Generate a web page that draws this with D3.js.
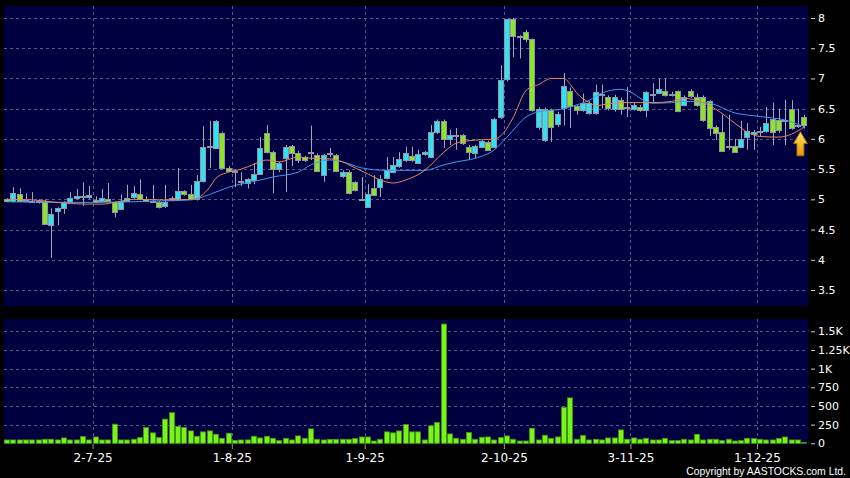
<!DOCTYPE html>
<html><head><meta charset="utf-8">
<script src="https://cdn.jsdelivr.net/npm/d3@7"></script>
<style>html,body{margin:0;padding:0;background:#000;}svg{display:block}</style>
</head><body><svg id="c" width="850" height="478"></svg>
<script>
// ---- data ----
const open = [5.00,4.96,5.09,4.99,4.98,4.97,4.98,4.57,4.80,4.85,4.97,5.03,5.05,5.03,4.99,4.98,5.00,4.95,4.85,4.98,
5.03,5.08,5.00,4.97,4.95,4.88,5.00,5.00,5.13,5.08,5.00,5.30,5.88,5.85,6.10,5.52,5.47,5.30,5.27,5.32,
5.42,6.10,5.78,5.50,5.68,5.88,5.77,5.70,5.78,5.73,5.40,5.77,5.73,5.38,5.45,5.29,5.01,4.87,5.19,5.20,
5.35,5.45,5.55,5.65,5.72,5.60,5.75,5.70,6.11,6.30,6.00,6.07,6.06,5.87,5.77,5.87,5.95,5.87,6.35,6.98,
7.98,7.70,7.77,7.65,6.20,5.98,6.48,6.26,6.50,6.80,6.54,6.48,6.44,6.43,6.74,6.69,6.50,6.65,6.52,6.50,
6.53,6.48,6.74,6.76,6.80,6.74,6.79,6.56,6.79,6.69,6.69,6.62,6.20,6.12,5.88,5.88,5.87,6.03,6.08,6.13,
6.13,6.33,6.31,6.31,6.50,6.23,6.36];
const high = [5.02,5.20,5.18,5.10,5.12,5.00,5.00,4.85,4.87,4.97,5.12,5.17,5.28,5.22,5.05,5.17,5.27,4.97,5.08,5.24,
5.22,5.33,5.05,5.24,4.97,5.24,5.05,5.52,5.15,5.24,5.40,6.21,6.30,6.31,6.12,5.55,5.50,5.45,5.35,5.60,
6.03,6.23,5.80,5.62,5.90,5.90,5.80,5.72,6.22,5.76,5.75,5.85,5.75,5.48,5.48,5.30,5.37,5.25,5.40,5.40,
5.70,5.70,5.78,5.87,5.87,5.82,5.80,6.23,6.32,6.32,6.15,6.18,6.08,5.90,5.90,5.99,5.97,6.35,7.22,7.98,
8.00,7.72,7.80,7.66,6.52,6.52,6.50,6.45,7.09,6.85,6.56,6.75,6.62,6.90,6.90,6.72,6.73,6.68,6.86,6.60,
6.56,6.79,6.92,7.00,7.00,6.78,6.80,6.72,6.82,6.75,6.72,6.64,6.22,6.40,6.40,6.00,6.30,6.26,6.15,6.20,
6.53,6.60,6.50,6.65,6.64,6.50,6.40];
const low = [4.95,4.95,4.96,4.97,4.96,4.93,4.60,4.03,4.57,4.76,4.95,5.00,4.89,5.00,4.95,4.97,4.96,4.70,4.83,4.97,
5.00,4.99,4.96,4.95,4.85,4.86,4.97,4.99,5.06,4.99,4.98,5.28,5.52,5.85,5.50,5.45,5.20,5.22,5.18,5.25,
5.40,5.76,5.10,5.45,5.12,5.55,5.60,5.62,5.65,5.45,5.29,5.70,5.45,5.35,5.08,5.13,4.99,4.86,5.06,5.04,
5.33,5.43,5.52,5.62,5.62,5.58,5.72,5.68,6.08,5.85,5.90,5.82,5.90,5.65,5.68,5.85,5.80,5.85,6.33,6.95,
7.35,7.33,7.60,6.45,6.15,5.95,5.95,6.20,6.22,6.18,6.40,6.45,6.40,6.40,6.50,6.47,6.45,6.40,6.36,6.47,
6.45,6.36,6.59,6.74,6.70,6.70,6.44,6.54,6.68,6.53,6.28,6.05,5.98,5.78,5.82,5.78,5.85,5.82,5.82,6.05,
6.10,5.90,6.10,5.90,6.15,6.18,6.17];
const close = [4.97,5.10,4.97,4.98,4.97,4.95,4.60,4.76,4.85,4.95,5.03,5.06,5.05,5.07,4.96,5.03,4.97,4.79,4.98,5.03,
5.10,5.00,4.97,4.97,4.87,4.95,5.02,5.13,5.08,5.00,5.30,5.87,5.88,6.30,5.52,5.47,5.45,5.30,5.33,5.42,
5.85,5.78,5.50,5.60,5.87,5.77,5.65,5.65,5.78,5.47,5.73,5.77,5.46,5.45,5.10,5.15,5.01,5.08,5.08,5.33,
5.48,5.57,5.67,5.77,5.65,5.75,5.78,6.11,6.30,6.01,6.06,6.07,5.93,5.78,5.88,5.97,5.82,6.33,6.97,7.98,
7.70,7.70,7.65,6.48,6.50,6.50,6.20,6.42,6.87,6.55,6.48,6.60,6.60,6.78,6.74,6.50,6.70,6.50,6.52,6.56,
6.48,6.77,6.74,6.82,6.73,6.74,6.46,6.69,6.70,6.55,6.31,6.18,6.10,5.80,5.88,5.78,6.00,6.13,6.11,6.13,
6.26,6.12,6.15,6.31,6.18,6.23,6.22];
const volume = [45,45,45,45,45,45,54,54,45,72,45,45,90,45,85,45,45,256,45,45,
54,76,211,140,76,324,410,225,211,166,94,153,166,121,67,135,40,45,45,94,
72,94,67,36,67,45,99,67,193,54,45,54,54,54,54,63,85,85,31,54,
153,140,166,252,153,153,45,234,279,1597,126,67,54,144,54,81,85,45,76,99,
54,31,31,202,45,108,67,85,482,608,54,103,45,54,45,72,72,180,54,72,
54,67,45,45,67,36,36,54,45,121,45,54,54,36,54,31,36,67,63,54,
45,45,63,85,45,45,9];
// moving-average lines, read as [bar index, price]
const maFast = [[0,5.00],[4,4.99],[7,4.96],[10,4.93],[15,4.92],[17,4.95],[20,5.00],[25,4.99],[29,5.00],[30,5.02],
[32,5.20],[33,5.35],[35,5.45],[37,5.50],[39,5.58],[41,5.65],[43,5.62],[46,5.70],[48,5.68],[51,5.67],[53,5.62],
[55,5.52],[57,5.42],[59,5.32],[61,5.27],[63,5.32],[66,5.48],[69,5.78],[71,5.93],[73,5.97],[77,6.00],[78,6.05],
[80,6.36],[82,6.80],[84,6.90],[86,7.00],[88,7.00],[89,6.90],[90,6.76],[92,6.60],[93,6.55],[95,6.58],[97,6.60],
[102,6.60],[105,6.62],[107,6.67],[110,6.60],[112,6.49],[115,6.26],[117,6.11],[119,6.04],[122,6.03],[124,6.08],[126,6.20]];
const maSlow = [[0,4.96],[8,4.95],[15,4.95],[23,4.97],[29,4.99],[32,5.08],[35,5.20],[40,5.32],[42,5.37],[46,5.45],
[48,5.57],[51,5.65],[53,5.62],[56,5.52],[60,5.48],[66,5.48],[69,5.57],[71,5.62],[74,5.68],[77,5.82],[79,6.03],
[82,6.36],[84,6.45],[88,6.50],[89,6.53],[92,6.64],[94,6.76],[97,6.82],[98,6.80],[101,6.62],[102,6.59],[105,6.60],
[107,6.62],[111,6.59],[115,6.43],[119,6.37],[123,6.31],[126,6.20]];
const priceTicks = [3.5,4,4.5,5,5.5,6,6.5,7,7.5,8];
const volTicks = [0,250,500,750,1000,1250,1500];
const volTickLabels = ["0","250","500","750","1K","1.25K","1.5K"];
const dateTickIdx = [13,35,56,78,98,118];
const dateTickLabels = ["2-7-25","1-8-25","1-9-25","2-10-25","3-11-25","1-12-25"];

// ---- layout ----
const svg = d3.select('#c');
const L = 4, R = 808, pTop = 6, pBot = 306, vTop = 319, vBot = 444;
const n = open.length;
const x = d3.scaleLinear().domain([-0.5, n - 0.5]).range([L, 807.6]);
const y = d3.scaleLinear().domain([3.5, 8]).range([290, 18]);
const yv = d3.scaleLinear().domain([0, 1500]).range([443.3, 331.3]);
const FONT = "'DejaVu Sans', Verdana, sans-serif";
const GRID = "#575a8e";

svg.append('rect').attr('width', 850).attr('height', 478).attr('fill', '#000');
svg.append('rect').attr('x', L).attr('y', pTop).attr('width', R - L).attr('height', pBot - pTop).attr('fill', '#000040');
svg.append('rect').attr('x', L).attr('y', vTop).attr('width', R - L).attr('height', vBot - vTop).attr('fill', '#000040');

const defs = svg.append('defs');
defs.append('clipPath').attr('id', 'cp').append('rect').attr('x', L).attr('y', pTop).attr('width', R - L).attr('height', pBot - pTop);
defs.append('clipPath').attr('id', 'cv').append('rect').attr('x', L).attr('y', vTop).attr('width', R - L).attr('height', vBot - vTop);
const grad = defs.append('linearGradient').attr('id', 'ag').attr('x1', 0).attr('y1', 0).attr('x2', 0).attr('y2', 1);
grad.append('stop').attr('offset', '0%').attr('stop-color', '#ffe270');
grad.append('stop').attr('offset', '100%').attr('stop-color', '#e89a00');

const px = v => Math.round(v) + 0.5;

// grid
const g = svg.append('g').attr('stroke', GRID).attr('stroke-width', 1).attr('stroke-dasharray', '3,3').attr('fill', 'none');
priceTicks.forEach(t => g.append('line').attr('x1', L).attr('x2', R).attr('y1', px(y(t))).attr('y2', px(y(t))));
volTicks.slice(1).forEach(t => g.append('line').attr('x1', L).attr('x2', R).attr('y1', px(yv(t))).attr('y2', px(yv(t))));
dateTickIdx.forEach(i => {
  const gx = px(x(i + 0.5));
  g.append('line').attr('x1', gx).attr('x2', gx).attr('y1', pTop).attr('y2', pBot);
  g.append('line').attr('x1', gx).attr('x2', gx).attr('y1', vTop).attr('y2', vBot);
});

// candles
const cg = svg.append('g').attr('clip-path', 'url(#cp)');
const idx = d3.range(n);
cg.selectAll('line.w').data(idx).join('line').attr('class', 'w')
  .attr('x1', i => Math.round(x(i)) + 0.5).attr('x2', i => Math.round(x(i)) + 0.5)
  .attr('y1', i => y(high[i])).attr('y2', i => y(low[i]))
  .attr('stroke', '#a3a8b8').attr('stroke-width', 1);
cg.selectAll('rect.b').data(idx).join('rect').attr('class', 'b')
  .attr('x', i => Math.round(x(i)) - 2.5).attr('width', 5)
  .attr('y', i => Math.round(y(Math.max(open[i], close[i]))) + 0.5)
  .attr('height', i => Math.max(1, Math.round(Math.abs(y(open[i]) - y(close[i])))))
  .attr('fill', i => close[i] > open[i] ? '#30e2f2' : close[i] < open[i] ? '#8ce424' : '#a0a4b0')
  .attr('stroke', '#8c98a8').attr('stroke-width', 1);

// moving averages
const line = d3.line().x(d => x(d[0])).y(d => y(d[1])).curve(d3.curveMonotoneX);
cg.append('path').attr('d', line(maSlow)).attr('fill', 'none').attr('stroke', '#3c9ce8').attr('stroke-width', 1);
cg.append('path').attr('d', line(maFast)).attr('fill', 'none').attr('stroke', '#e8845c').attr('stroke-width', 1);

// arrow under the last bar
const ax = x(n - 1) - 4, at = y(6.12), ab = y(5.72);
const ap = d3.path();
ap.moveTo(ax, at); ap.lineTo(ax + 7, at + 12); ap.lineTo(ax + 3.5, at + 12); ap.lineTo(ax + 3.5, ab);
ap.lineTo(ax - 3.5, ab); ap.lineTo(ax - 3.5, at + 12); ap.lineTo(ax - 7, at + 12); ap.closePath();
svg.append('path').attr('d', ap.toString()).attr('fill', 'url(#ag)').attr('stroke', '#9a6a00').attr('stroke-width', 1);

// volume
const vg = svg.append('g').attr('clip-path', 'url(#cv)');
vg.selectAll('rect').data(idx).join('rect')
  .attr('x', i => Math.round(x(i)) - 2.5).attr('width', 5)
  .attr('y', i => yv(volume[i])).attr('height', i => yv(0) - yv(volume[i]))
  .attr('fill', '#7af21c').attr('stroke', '#3f9a10').attr('stroke-width', 0.8);

// axes
function styleAxis(sel, size) {
  sel.select('.domain').remove();
  sel.selectAll('line').attr('stroke', '#d0d0d0');
  sel.selectAll('text').attr('fill', '#fff').style('font-family', FONT).style('font-size', size + 'px');
}
const ay = svg.append('g').attr('transform', 'translate(811,0)')
  .call(d3.axisRight(y).tickValues(priceTicks).tickSize(4).tickPadding(3).tickFormat(d => String(d)));
styleAxis(ay, 11);
const avx = svg.append('g').attr('transform', 'translate(811,0)')
  .call(d3.axisRight(yv).tickValues(volTicks).tickSize(4).tickPadding(3).tickFormat((d, i) => volTickLabels[i]));
styleAxis(avx, 11);
const axb = svg.append('g').attr('transform', 'translate(0,444)')
  .call(d3.axisBottom(x).tickValues(dateTickIdx.map(i => i + 0.5)).tickSize(5).tickPadding(4.5)
    .tickFormat((d, i) => dateTickLabels[i]));
styleAxis(axb, 12);
axb.selectAll('line').attr('stroke', '#9a9a9a');

svg.append('text').attr('x', 846).attr('y', 474.5).attr('text-anchor', 'end')
  .attr('fill', '#fff').style('font-family', "'Liberation Sans', Arial, sans-serif").style('font-size', '10.4px')
  .text('Copyright by AASTOCKS.com Ltd.');
</script></body></html>
